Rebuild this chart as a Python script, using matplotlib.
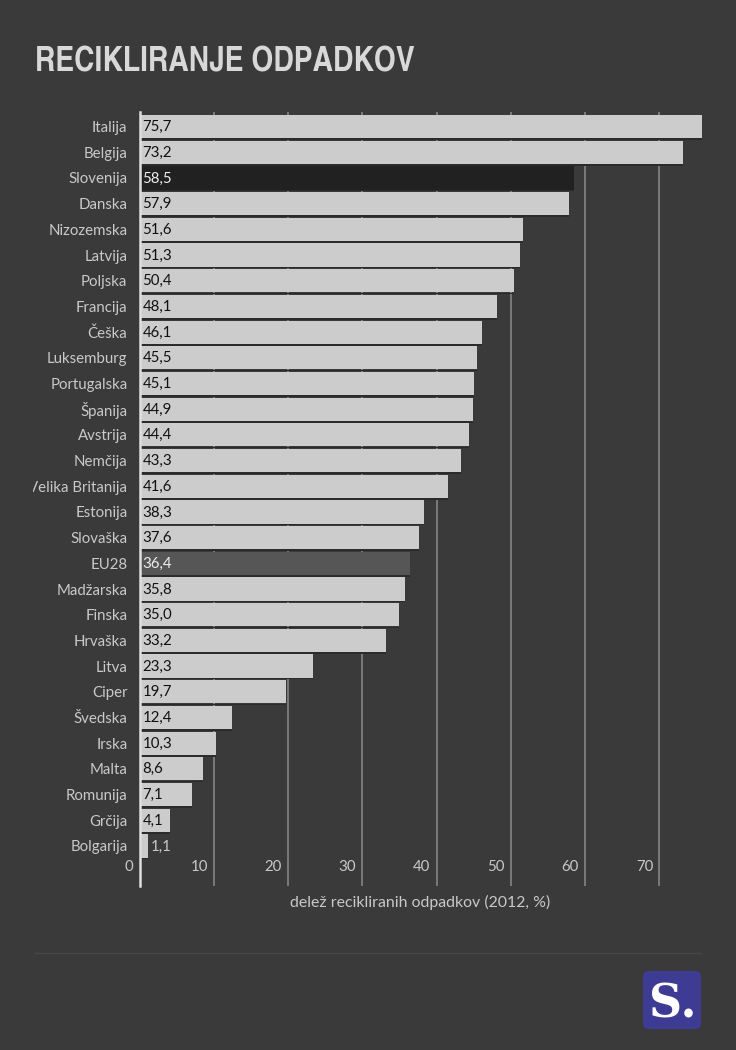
import matplotlib
matplotlib.use("Agg")
import matplotlib.pyplot as plt
from matplotlib.patches import FancyBboxPatch
from matplotlib.lines import Line2D
from matplotlib.transforms import ScaledTranslation, Bbox

countries = ["Italija","Belgija","Slovenija","Danska","Nizozemska","Latvija","Poljska","Francija","Češka",
             "Luksemburg","Portugalska","Španija","Avstrija","Nemčija","Velika Britanija","Estonija","Slovaška",
             "EU28","Madžarska","Finska","Hrvaška","Litva","Ciper","Švedska","Irska","Malta","Romunija","Grčija","Bolgarija"]
values = [75.7,73.2,58.5,57.9,51.6,51.3,50.4,48.1,46.1,45.5,45.1,44.9,44.4,43.3,41.6,38.3,37.6,36.4,35.8,35.0,33.2,
          23.3,19.7,12.4,10.3,8.6,7.1,4.1,1.1]
x_ticks = [0,10,20,30,40,50,60,70]
title = "RECIKLIRANJE ODPADKOV"
xlabel = "delež recikliranih odpadkov (2012, %)"

BG = "#3a3a3a"; LIGHT = "#cccccc"; TXT = "#c9c9c9"
W, H = 736, 1050
plt.rcParams['font.family'] = ['Lato', 'DejaVu Sans']
fig = plt.figure(figsize=(W/100, H/100), dpi=100, facecolor=BG)
L, R, T, B = 139.6, 701.8, 112.0, 886.0
ax = fig.add_axes([L/W, 1-B/H, (R-L)/W, (B-T)/H], facecolor=BG)
ax.set_xlim(0, (R-L)/7.423)
pitch = 25.69
y0 = 126.6
ax.set_ylim((B-y0)/pitch, (T-y0)/pitch)

colors = ["#212121" if c == "Slovenija" else "#565656" if c == "EU28" else LIGHT for c in countries]
ypos = list(range(len(countries)))
ax.barh(ypos, values, height=23.2/pitch, color=colors, zorder=3, linewidth=0)
ax.barh([y+12.6/pitch for y in ypos], values, height=1.6/pitch, color="#2b2b2b", zorder=2.5, linewidth=0)

ax.xaxis.grid(True, color="#858585", linewidth=1.2, zorder=1)
ax.yaxis.grid(False)
ax.set_axisbelow(True)
for s in ["top","right","bottom"]:
    ax.spines[s].set_visible(False)
ax.spines["left"].set_color("#dedede")
ax.spines["left"].set_linewidth(1.8)
ax.spines["left"].set_zorder(5)

ax.set_yticks(ypos)
ax.set_yticklabels(countries, fontsize=10.8, color=TXT)
ax.tick_params(axis='y', length=0, pad=8.8)
ax.set_xticks(x_ticks)
ax.set_xticklabels([str(v) for v in x_ticks], fontsize=10.8, color=TXT, ha='right')
ax.tick_params(axis='x', length=0, pad=0)
off = ScaledTranslation(-6/100, 19/100, fig.dpi_scale_trans)
for lab in ax.get_xticklabels():
    lab.set_transform(lab.get_transform() + off)
    lab.set_va('center')
clip = Bbox([[33, 0], [W, H]])
for lab in ax.get_yticklabels():
    lab.set_clip_box(clip)
    lab.set_clip_on(True)

for y, v, c in zip(ypos, values, countries):
    s = f"{v:.1f}".replace(".", ",")
    if v < 2:
        ax.annotate(s, (v, y), xytext=(2.8, -0.5), textcoords='offset pixels', color=TXT, fontsize=10.8, va='center', ha='left', zorder=6)
    else:
        col = "#eeeeee" if c in ("Slovenija","EU28") else "#111111"
        ax.annotate(s, (0, y), xytext=(2.8, -0.5), textcoords='offset pixels', color=col, fontsize=10.8, va='center', ha='left', zorder=6)

fig.text(420/W, 1-902.5/H, xlabel, color=TXT, fontsize=11.4, ha='center', va='center')
fig.text(35/W, 1-72/H, title, color="#d8d8d8", fontsize=24.8, fontweight='bold',
         family=['TeX Gyre Heros Cn','Lato','DejaVu Sans'], ha='left', va='baseline')
fig.add_artist(Line2D([35/W, 701/W], [1-953/H, 1-953/H], color="#474747", linewidth=1))

bg = fig.add_axes([0,0,1,1], facecolor='none', zorder=10)
bg.set_xlim(0,W); bg.set_ylim(H,0); bg.axis('off')
bg.add_patch(FancyBboxPatch((643,971), 58, 58, boxstyle="round,pad=0,rounding_size=5",
                            facecolor="#3e3b95", edgecolor="none"))
bg.text(672.5, 1017.5, "S.", color="white", fontsize=33, fontweight='bold',
        family=['DejaVu Serif'], ha='center', va='baseline')
fig.savefig("out.png", dpi=100, facecolor=BG)
